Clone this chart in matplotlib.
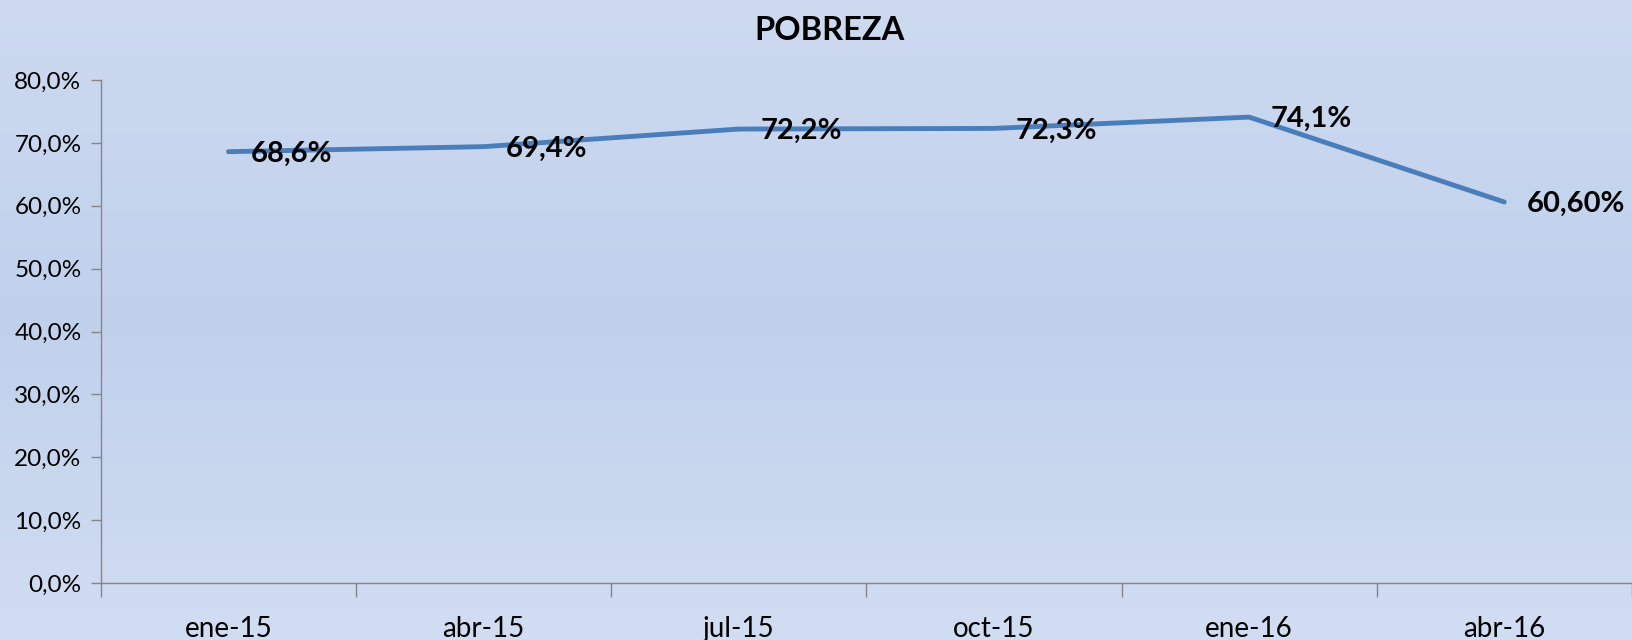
import numpy as np
import matplotlib
matplotlib.use("Agg")
import matplotlib.pyplot as plt
from matplotlib.colors import LinearSegmentedColormap
from matplotlib.ticker import FixedLocator, FuncFormatter

# data
periods = ["ene-15", "abr-15", "jul-15", "oct-15", "ene-16", "abr-16"]
pobreza = [68.6, 69.4, 72.2, 72.3, 74.1, 60.6]
labels = ["68,6%", "69,4%", "72,2%", "72,3%", "74,1%", "60,60%"]

plt.rcParams['font.family'] = ['Lato', 'DejaVu Sans']

fig = plt.figure(figsize=(16.33, 6.4), dpi=100)

# background gradient (light blue, a bit darker in the middle)
bg = fig.add_axes([0, 0, 1, 1], zorder=-10)
cmap = LinearSegmentedColormap.from_list("bg", ["#cddaf0", "#c1d1ec", "#d1ddf2"])
grad = np.linspace(0, 1, 256).reshape(-1, 1)
bg.imshow(grad, aspect="auto", cmap=cmap, extent=[0, 1, 0, 1], origin="upper")
bg.axis("off")

ax = fig.add_axes([0.0618, 0.089, 0.9375, 0.786])
ax.patch.set_alpha(0)

x = np.arange(len(periods))
ax.plot(x, pobreza, color="#4a7ebb", lw=3.5, solid_capstyle="round", zorder=3)

for xi, yi, lab in zip(x, pobreza, labels):
    ax.annotate(lab, (xi, yi), xytext=(22, -2), textcoords="offset pixels",
                ha="left", va="center", fontsize=21, fontweight="bold", color="black")

ax.set_xlim(-0.5, len(periods) - 0.5)
ax.set_ylim(0, 80)

ax.yaxis.set_major_locator(FixedLocator(np.arange(0, 81, 10)))
ax.yaxis.set_major_formatter(FuncFormatter(lambda v, p: f"{v:.1f}%".replace(".", ",")))

ax.set_xticks(x)
ax.set_xticklabels(periods)
ax.set_xticks(np.arange(-0.5, len(periods)), minor=True)
ax.tick_params(axis="x", which="major", length=0, pad=24, labelsize=20)
ax.tick_params(axis="x", which="minor", length=10, color="#868686", width=1)
ax.tick_params(axis="y", length=7, color="#868686", width=1, labelsize=17.5, pad=7)

for side in ["top", "right"]:
    ax.spines[side].set_visible(False)
for side in ["left", "bottom"]:
    ax.spines[side].set_color("#868686")
    ax.spines[side].set_linewidth(1)

fig.text(0.508, 0.953, "POBREZA", ha="center", va="center",
         fontsize=23.5, fontweight="bold")

fig.savefig("out.png", dpi=100)
